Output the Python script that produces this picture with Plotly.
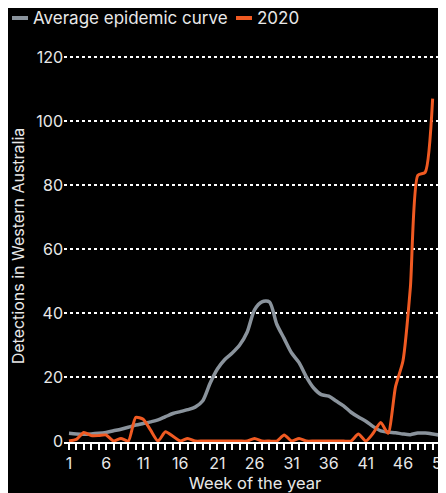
import plotly.graph_objects as go

weeks = list(range(1, 53))
average_curve = [2.4, 2.2, 2.1, 2.2, 2.4, 2.7, 3.2, 3.7, 4.3, 5.0,
                 5.5, 6.0, 6.6, 7.6, 8.6, 9.2, 9.8, 10.6, 12.5, 18.0,
                 22.5, 25.5, 27.5, 30.0, 34.0, 41.0, 43.5, 43.5, 36.5, 32.0,
                 27.5, 24.5, 20.0, 16.5, 14.5, 14.0, 12.5, 11.0, 9.0, 7.5,
                 6.2, 4.5, 3.2, 2.8, 2.6, 2.2, 2.0, 2.5, 2.5, 2.2,
                 1.8, 1.2]
weeks_2020 = list(range(1, 51))
cases_2020 = [0, 0.5, 2.7, 1.7, 1.7, 1.9, 0, 0.8, 0, 7.4,
              6.8, 3.4, 0, 2.9, 1.5, 0, 0.8, 0, 0, 0,
              0, 0, 0, 0, 0, 0.8, 0, 0, 0, 1.9,
              0, 0.8, 0, 0, 0, 0, 0, 0, 0, 2.2,
              0, 2.5, 5.8, 2.4, 17, 25, 48, 83, 84, 107]
x_tick_labels = [str(w) for w in range(1, 52, 5)]
y_tick_values = [0, 20, 40, 60, 80, 100, 120]

GRAY = "#8a939c"
ORANGE = "#f05a22"
TEXT = "#e8e8e8"
FONT = "Inter"

# the page body has an 8px margin, so the figure is laid out 8px smaller
W, H = 438, 485
ML, MT, MB = 56, 42, 51
PW, PH = W - ML, H - MT - MB

fig = go.Figure()
fig.add_trace(go.Scatter(x=weeks, y=average_curve, mode="lines", name="Average epidemic curve",
                         line=dict(color=GRAY, width=3.5, shape="spline", smoothing=0.8)))
fig.add_trace(go.Scatter(x=weeks_2020, y=cases_2020, mode="lines", name="2020",
                         line=dict(color=ORANGE, width=3, shape="spline", smoothing=0.6)))

fig.update_layout(
    width=W, height=H,
    paper_bgcolor="black", plot_bgcolor="black",
    margin=dict(l=ML, r=0, t=MT, b=MB),
    showlegend=False,
    font=dict(family=FONT, color=TEXT, size=15),
)
fig.update_xaxes(
    range=[0.33, 51.8], automargin=False,
    tickvals=list(range(1, 52, 5)), ticktext=x_tick_labels,
    ticklabeloverflow="allow",
    ticks="outside", ticklen=6, tickwidth=1.5, tickcolor="white",
    minor=dict(tick0=1, dtick=1, ticks="outside", ticklen=6, tickwidth=1.5, tickcolor="white"),
    showgrid=False, zeroline=False,
    showline=True, linecolor="white", linewidth=2,
    layer="below traces",
    tickfont=dict(size=16, color=TEXT),
    title=dict(text="Week of the year", font=dict(size=16.5, color=TEXT), standoff=7),
)
fig.update_yaxes(
    range=[-0.3, 122.2], automargin=False,
    tickvals=y_tick_values,
    showgrid=True, gridcolor="white", griddash="dot", gridwidth=1.5,
    zeroline=False, ticks="", showline=False,
    layer="below traces",
    tickfont=dict(size=16, color=TEXT),
    title=dict(text="Detections in Western Australia", font=dict(size=16, color=TEXT), standoff=8),
)

# legend drawn manually (short swatches); positions in page pixels
legend_items = [("Average epidemic curve", GRAY, 12), ("2020", ORANGE, 236)]
ly = (H - MB - (18 - 8)) / PH
for label, color, x0 in legend_items:
    fx = x0 - 8
    fig.add_shape(type="line", xref="paper", yref="paper",
                  x0=(fx - ML) / PW, x1=(fx + 16 - ML) / PW, y0=ly, y1=ly,
                  line=dict(color=color, width=4))
    fig.add_annotation(text=label, xref="paper", yref="paper",
                       x=(fx + 19 - ML) / PW, y=ly,
                       xanchor="left", yanchor="middle", showarrow=False,
                       font=dict(size=17, color=TEXT))

fig.write_html("out.html")
